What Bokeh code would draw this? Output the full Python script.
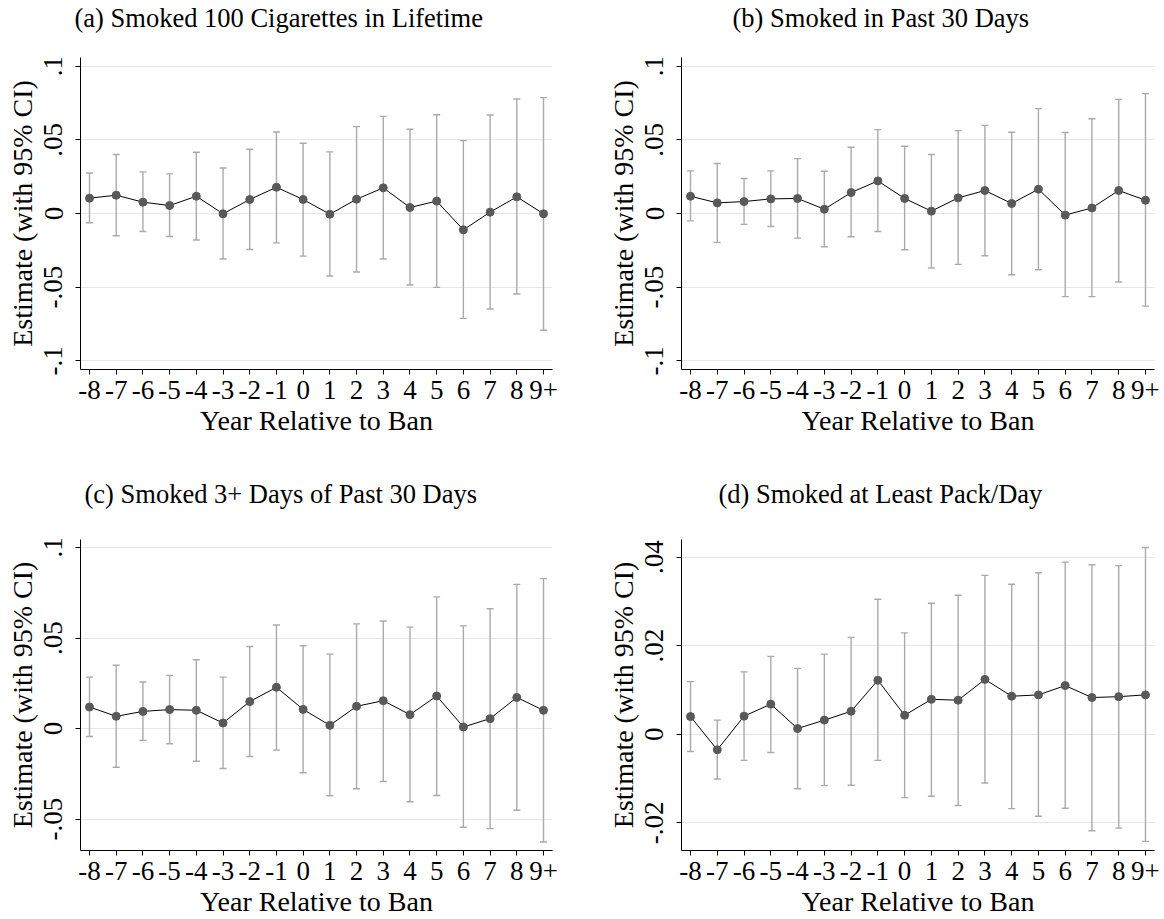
from bokeh.plotting import figure
from bokeh.layouts import gridplot
from bokeh.models import ColumnDataSource, FixedTicker, Whisker, TeeHead, Title
from bokeh.embed import file_html
from bokeh.resources import INLINE

# Event-study estimates by year relative to the ban
years = ["-8", "-7", "-6", "-5", "-4", "-3", "-2", "-1", "0",
         "1", "2", "3", "4", "5", "6", "7", "8", "9+"]

# (a) Smoked 100 cigarettes in lifetime
est_a = [0.0104, 0.0124, 0.0077, 0.0054, 0.0117, -0.0002, 0.0095, 0.0178, 0.0095,
         -0.0005, 0.0097, 0.0174, 0.0041, 0.0084, -0.0111, 0.0009, 0.0113, -0.0002]
hi_a = [0.0275, 0.0400, 0.0282, 0.0269, 0.0415, 0.0309, 0.0436, 0.0553, 0.0476,
        0.0418, 0.0589, 0.0659, 0.0571, 0.0670, 0.0494, 0.0668, 0.0777, 0.0786]
lo_a = [-0.0063, -0.0151, -0.0122, -0.0156, -0.0180, -0.0309, -0.0244, -0.0199, -0.0289,
        -0.0424, -0.0397, -0.0309, -0.0485, -0.0501, -0.0711, -0.0648, -0.0546, -0.0792]

# (b) Smoked in past 30 days
est_b = [0.0117, 0.0072, 0.0081, 0.0099, 0.0102, 0.0029, 0.0142, 0.0221, 0.0102,
         0.0016, 0.0106, 0.0156, 0.0068, 0.0165, -0.0011, 0.0038, 0.0156, 0.0090]
hi_b = [0.0289, 0.0339, 0.0237, 0.0289, 0.0372, 0.0287, 0.0449, 0.0569, 0.0456,
        0.0400, 0.0562, 0.0598, 0.0551, 0.0711, 0.0549, 0.0643, 0.0774, 0.0813]
lo_b = [-0.0050, -0.0196, -0.0074, -0.0088, -0.0167, -0.0226, -0.0158, -0.0122, -0.0246,
        -0.0370, -0.0345, -0.0287, -0.0415, -0.0381, -0.0564, -0.0564, -0.0465, -0.0628]

# (c) Smoked 3+ days of past 30 days
est_c = [0.0119, 0.0068, 0.0095, 0.0105, 0.0101, 0.0031, 0.0149, 0.0228, 0.0106,
         0.0018, 0.0123, 0.0154, 0.0077, 0.0180, 0.0009, 0.0055, 0.0172, 0.0101]
hi_c = [0.0284, 0.0350, 0.0257, 0.0294, 0.0380, 0.0284, 0.0453, 0.0572, 0.0457,
        0.0411, 0.0578, 0.0594, 0.0560, 0.0727, 0.0567, 0.0662, 0.0796, 0.0828]
lo_c = [-0.0044, -0.0213, -0.0066, -0.0084, -0.0180, -0.0220, -0.0154, -0.0119, -0.0244,
        -0.0371, -0.0332, -0.0292, -0.0404, -0.0369, -0.0545, -0.0552, -0.0451, -0.0626]

# (d) Smoked at least a pack per day
est_d = [0.0040, -0.0035, 0.0041, 0.0068, 0.0013, 0.0032, 0.0052, 0.0122, 0.0043,
         0.0079, 0.0077, 0.0124, 0.0086, 0.0089, 0.0110, 0.0083, 0.0085, 0.0089]
hi_d = [0.0119, 0.0032, 0.0141, 0.0176, 0.0149, 0.0181, 0.0219, 0.0305, 0.0229,
        0.0296, 0.0314, 0.0359, 0.0339, 0.0365, 0.0389, 0.0383, 0.0381, 0.0422]
lo_d = [-0.0039, -0.0101, -0.0059, -0.0041, -0.0123, -0.0116, -0.0115, -0.0059, -0.0143,
        -0.0140, -0.0161, -0.0110, -0.0168, -0.0185, -0.0167, -0.0218, -0.0212, -0.0242]

ticks_wide = [-0.1, -0.05, 0, 0.05, 0.1]
labels_wide = ["-.1", "-.05", "0", ".05", ".1"]
ticks_c = [-0.05, 0, 0.05, 0.1]
labels_c = ["-.05", "0", ".05", ".1"]
ticks_d = [-0.02, 0, 0.02, 0.04]
labels_d = ["-.02", "0", ".02", ".04"]

SERIF = "Liberation Serif"


def panel(title, title_shift, est, lo, hi, yr, yticks, ylabels,
          left, right, top, bottom, height, gap):
    x = list(range(len(years)))
    src = ColumnDataSource(dict(x=x, est=est, lo=lo, hi=hi))
    p = figure(width=582, height=height, x_range=(-0.337, len(years) - 1 + 0.337),
               y_range=yr, output_backend="svg", toolbar_location=None,
               min_border_left=left, min_border_right=right,
               min_border_top=top, min_border_bottom=bottom)
    p.title.text = ""
    p.outline_line_color = None
    p.background_fill_color = "white"
    p.border_fill_color = "white"

    # blank spacer next to the plot area, then the panel heading above it
    p.add_layout(Title(text=" ", text_font_size="1px", standoff=gap), "above")
    p.add_layout(Title(text=title, align="left", offset=title_shift, standoff=0,
                       text_font=SERIF, text_font_size="26.5px",
                       text_font_style="normal", text_color="black"), "above")

    p.add_layout(Whisker(source=src, base="x", upper="hi", lower="lo",
                         line_color="#aaaaaa", line_width=1.4,
                         upper_head=TeeHead(size=7, line_color="#aaaaaa", line_width=1.4),
                         lower_head=TeeHead(size=7, line_color="#aaaaaa", line_width=1.4)))
    p.line("x", "est", source=src, line_color="black", line_width=1)
    p.scatter("x", "est", source=src, size=8, fill_color="#595959", line_color="#595959")

    p.xgrid.visible = False
    p.ygrid.grid_line_color = "#e6e6e6"
    p.ygrid.grid_line_width = 1

    xa = p.xaxis[0]
    xa.ticker = FixedTicker(ticks=x)
    xa.major_label_overrides = {i: s for i, s in enumerate(years)}
    xa.axis_label = "Year Relative to Ban"

    ya = p.yaxis[0]
    ya.ticker = FixedTicker(ticks=yticks)
    ya.major_label_overrides = {t: s for t, s in zip(yticks, ylabels)}
    ya.major_label_orientation = "vertical"
    ya.axis_label = "Estimate (with 95% CI)"

    for ax in (xa, ya):
        ax.minor_tick_line_color = None
        ax.major_tick_in = 0
        ax.major_tick_out = 5
        ax.axis_line_color = "black"
        ax.major_tick_line_color = "black"
        ax.major_label_text_font = SERIF
        ax.major_label_text_font_size = "27px"
        ax.major_label_text_color = "black"
        ax.axis_label_text_font = SERIF
        ax.axis_label_text_font_size = "28px"
        ax.axis_label_text_font_style = "normal"
        ax.axis_label_text_color = "black"
    xa.major_label_standoff = 6
    xa.axis_label_standoff = 3
    ya.major_label_standoff = 13
    ya.axis_label_standoff = 4
    return p


pa = panel("(a) Smoked 100 Cigarettes in Lifetime", -6, est_a, lo_a, hi_a,
           (-0.1058, 0.1058), ticks_wide, labels_wide, 80, 30, 57, 91, 460, 22)
pb = panel("(b) Smoked in Past 30 Days", 51, est_b, lo_b, hi_b,
           (-0.1058, 0.1058), ticks_wide, labels_wide, 99, 10, 57, 91, 460, 22)
pc = panel("(c) Smoked 3+ Days of Past 30 Days", 4, est_c, lo_c, hi_c,
           (-0.0673, 0.1044), ticks_c, labels_c, 80, 30, 79, 68, 459, 28)
pd_ = panel("(d) Smoked at Least Pack/Day", 37, est_d, lo_d, hi_d,
            (-0.02625, 0.044), ticks_d, labels_d, 99, 10, 79, 68, 459, 28)

grid = gridplot([[pa, pb], [pc, pd_]], toolbar_location=None)

open("out.html", "w").write(file_html(grid, INLINE))
